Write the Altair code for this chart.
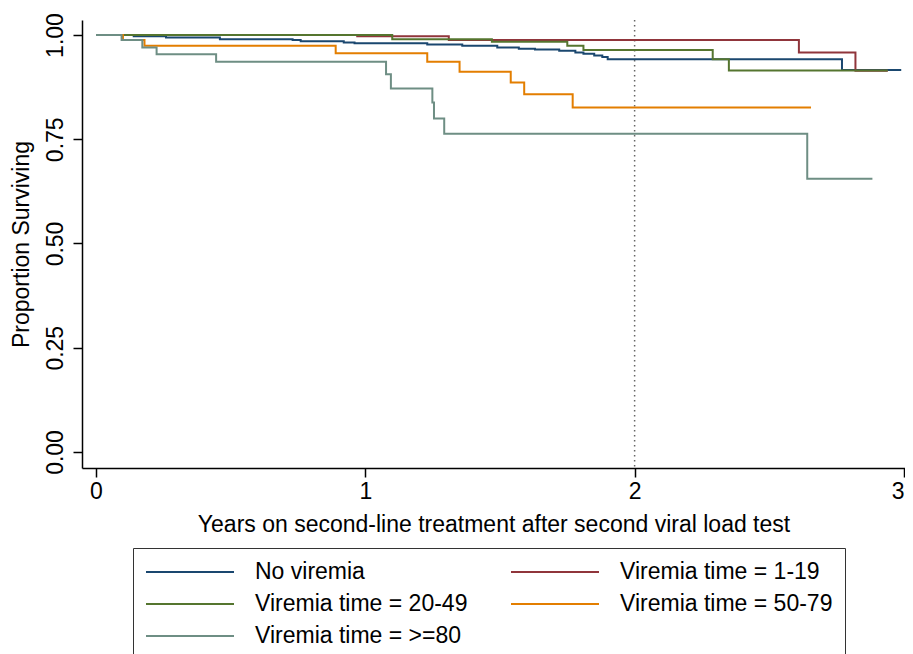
import altair as alt
import pandas as pd

groups = ["No viremia", "Viremia time = 1-19", "Viremia time = 20-49",
          "Viremia time = 50-79", "Viremia time = >=80"]
colors = ["#1a476f", "#90353b", "#55752f", "#e37e00", "#6e8e84"]

t_none = [0, 0.14, 0.26, 0.46, 0.73, 0.76, 0.92, 0.96, 1.23, 1.36, 1.49, 1.57,
          1.63, 1.72, 1.78, 1.81, 1.85, 1.88, 1.90, 2.77, 2.99]
s_none = [1.0, 0.997, 0.994, 0.990, 0.988, 0.985, 0.982, 0.980, 0.977, 0.974,
          0.970, 0.967, 0.965, 0.962, 0.958, 0.955, 0.951, 0.947, 0.942, 0.916, 0.916]

t_1_19 = [0, 0.97, 1.31, 2.61, 2.82, 2.94]
s_1_19 = [1.0, 0.997, 0.988, 0.958, 0.914, 0.914]

t_20_49 = [0, 1.10, 1.47, 1.75, 1.81, 2.29, 2.35, 2.94]
s_20_49 = [1.0, 0.990, 0.984, 0.974, 0.964, 0.942, 0.915, 0.915]

t_50_79 = [0, 0.10, 0.18, 0.89, 1.23, 1.35, 1.54, 1.59, 1.77, 2.655]
s_50_79 = [1.0, 0.988, 0.974, 0.956, 0.936, 0.912, 0.886, 0.858, 0.826, 0.826]

t_80 = [0, 0.095, 0.172, 0.225, 0.446, 1.077, 1.095, 1.249, 1.255, 1.293, 2.641, 2.883]
s_80 = [1.0, 0.988, 0.970, 0.954, 0.936, 0.906, 0.872, 0.838, 0.800, 0.763, 0.655, 0.655]

x_ticks = [0, 1, 2, 3]
y_ticks = [0, 0.25, 0.5, 0.75, 1.0]
ref_year = 2

times = [t_none, t_1_19, t_20_49, t_50_79, t_80]
survs = [s_none, s_1_19, s_20_49, s_50_79, s_80]

rows = []
for gi, (g, ts, ss) in enumerate(zip(groups, times, survs)):
    for i, (t, s) in enumerate(zip(ts, ss)):
        rows.append({"group": g, "gi": gi, "i": i, "t": t, "s": s})
df = pd.DataFrame(rows)

FONT = "Liberation Sans"
FS = 23

x_enc = alt.X(
    "t:Q",
    scale=alt.Scale(domain=[-0.052, 3.004], nice=False, zero=False),
    axis=alt.Axis(values=x_ticks, format="d", grid=False,
                  title="Years on second-line treatment after second viral load test",
                  labelAlign=alt.expr("datum.value >= 3 ? 'right' : 'center'"),
                  labelPadding=3, tickSize=9, titlePadding=10),
)
y_enc = alt.Y(
    "s:Q",
    scale=alt.Scale(domain=[-0.0384, 1.036], nice=False, zero=False),
    axis=alt.Axis(values=y_ticks, format=".2f", grid=False,
                  title="Proportion Surviving", labelAngle=-90,
                  labelAlign="center", labelBaseline="bottom",
                  labelPadding=6, tickSize=9, titlePadding=11),
)
color_enc = alt.Color(
    "group:N",
    scale=alt.Scale(domain=groups, range=colors),
    legend=alt.Legend(
        title=None, orient="none", legendX=51, legendY=528,
        columns=2, direction="horizontal", columnPadding=42, rowPadding=8,
        symbolType="stroke", symbolSize=88 * 88, symbolStrokeWidth=2,
        clipHeight=24, labelOffset=20, labelLimit=400,
        labelFont=FONT, labelFontSize=FS, labelColor="#000",
        strokeColor="#333", padding=12,
    ),
)

layers = []
rule = alt.Chart(pd.DataFrame({"v": [ref_year]})).mark_rule(
    color="#666", strokeDash=[1.5, 3.5], strokeWidth=1.5
).encode(x=alt.X("v:Q"))
layers.append(rule)

for k in range(len(groups)):
    layers.append(
        alt.Chart(df).transform_filter(alt.datum.gi == k)
        .mark_line(interpolate="step-after", strokeWidth=2)
        .encode(x=x_enc, y=y_enc, color=color_enc, order="i:Q")
    )

chart = alt.layer(*layers).properties(
    width=823, height=448,
    autosize=alt.AutoSizeParams(type="none"),
    padding={"left": 74, "top": 12, "right": 0, "bottom": 194},
).configure_view(strokeWidth=0).configure_axis(
    labelFont=FONT, titleFont=FONT, labelFontSize=FS, titleFontSize=FS,
    labelColor="#000", titleColor="#000", domainColor="#000", tickColor="#000",
    domainWidth=1.5, tickWidth=1.5, titleFontWeight="normal",
)

chart.save("out.html", embed_options={"renderer": "svg", "actions": False})
